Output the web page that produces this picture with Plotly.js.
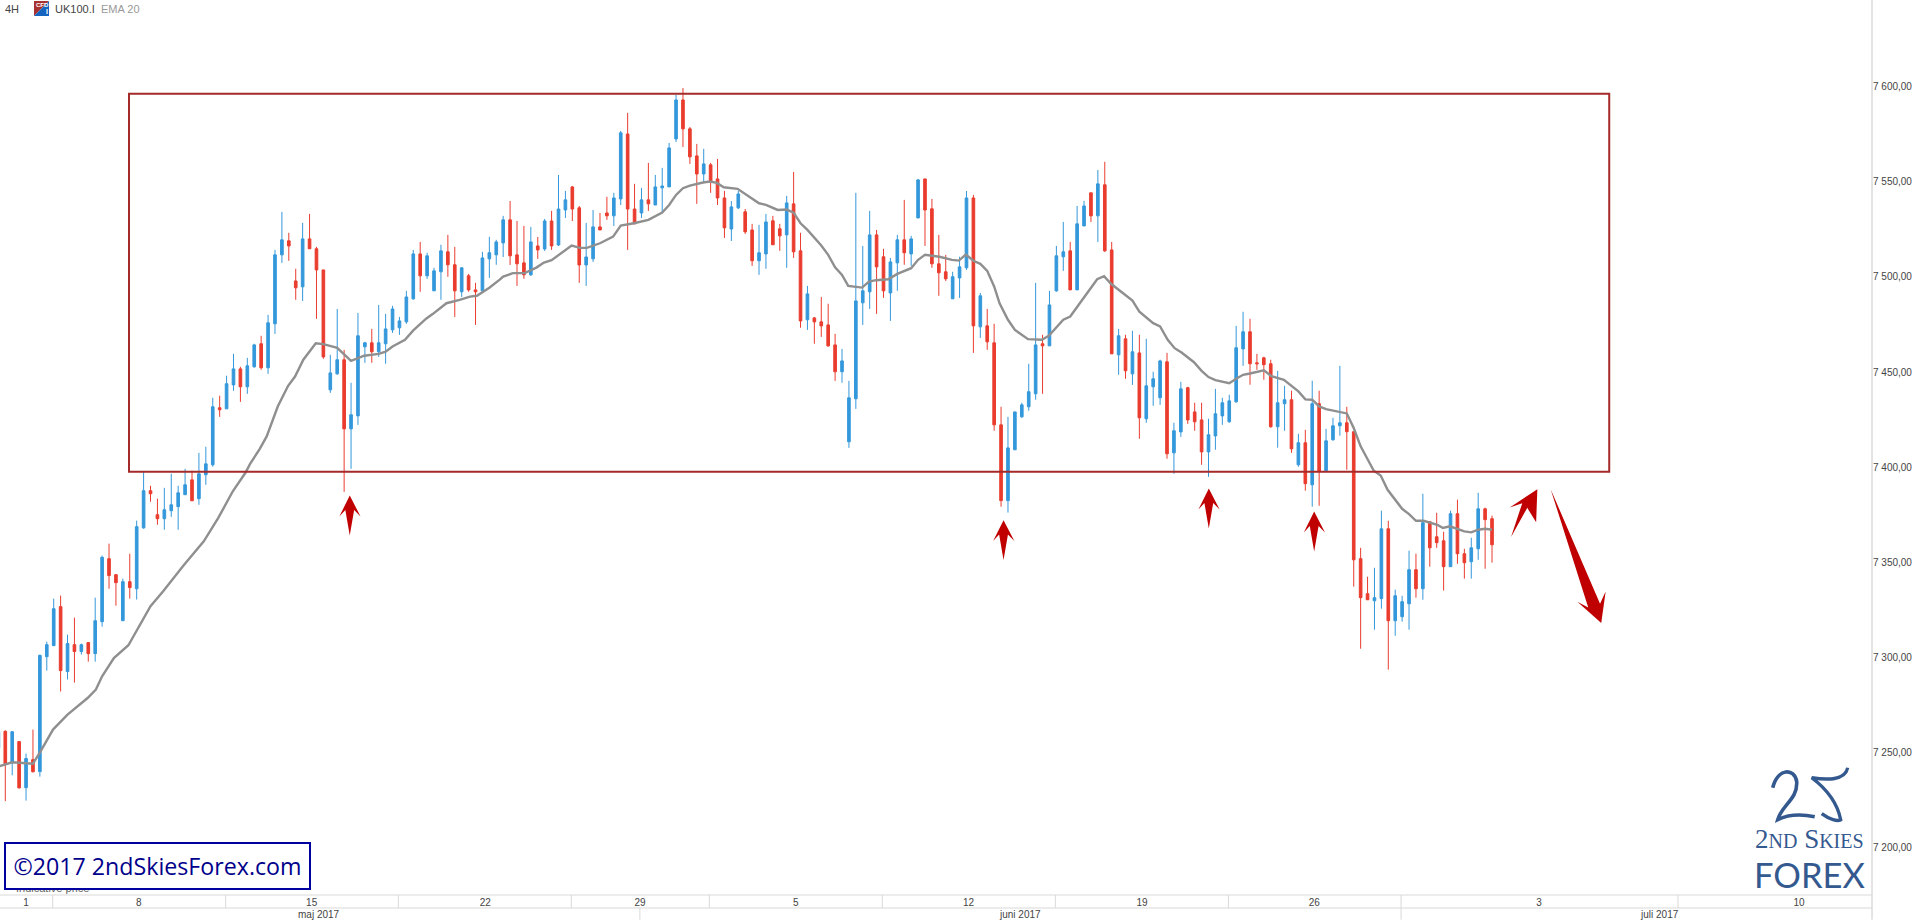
<![CDATA[<!DOCTYPE html>
<html><head><meta charset="utf-8">
<script src="https://cdn.plot.ly/plotly-3.0.1.min.js"></script>
<style>html,body{margin:0;padding:0;background:#fff;overflow:hidden}#chart{width:1914px;height:920px}</style>
</head><body><div id="chart"></div>
<script>
const priceOpen=[7252.4,7261.3,7245,7255.9,7231.7,7246.4,7240.1,7300.5,7306.3,7326.8,
7292.7,7306.8,7303.2,7307.9,7302.1,7318.9,7352,7343.6,7319.4,7339.9,
7336.2,7368.2,7387.7,7375.1,7373,7377.2,7379.3,7385.6,7393.4,7383.5,
7396.1,7401.3,7431.3,7430.7,7443.3,7451.7,7442.3,7452.8,7464.9,7452.3,
7475.4,7511.6,7519,7497.9,7494.8,7520,7514.8,7503.7,7440.7,7449.1,
7456.5,7420.2,7427,7463.3,7465.4,7460.7,7464.9,7472.2,7473.3,7476.4,
7488.5,7512.1,7500.6,7492.7,7502.7,7513.2,7506.4,7492.2,7500.6,7493.2,
7492.7,7509.5,7511.6,7517.9,7530,7511.6,7507.4,7501.1,7516.3,7514.7,
7529.4,7516.8,7535.2,7547.3,7536.3,7506.3,7509.5,7526.3,7533.6,7532.1,
7541,7575.1,7535.7,7533.6,7540.5,7537.8,7546.8,7547.3,7572.5,7593,
7577.8,7563.6,7554.1,7558.9,7551.5,7541.5,7525.2,7536.3,7534.2,7524.7,
7508.5,7512.1,7529.5,7525.3,7522.1,7538.4,7513.7,7477.5,7478.5,7476.4,
7474.8,7464.3,7450.2,7413.4,7436,7486.4,7492.2,7522.1,7510.6,7491.6,
7507.4,7519.5,7512.1,7531,7551.5,7535.8,7506.9,7502.7,7488.5,7499.5,
7504.8,7541.5,7473.8,7474.3,7465.4,7422.3,7382.5,7409.2,7426.5,7431.8,
7438.6,7464.9,7463.8,7492.7,7510.6,7513.7,7493.2,7526.8,7544.2,7532.1,
7548.4,7514.2,7459.1,7467.5,7449.1,7460.1,7425.5,7442.3,7436.5,7455.4,
7407.6,7418.6,7441.8,7429.1,7424.9,7408.1,7416.5,7427,7423.9,7434.4,
7462.2,7471.2,7454.9,7457.5,7454.4,7421.3,7433.4,7435.5,7401.3,7412.9,
7390.8,7433.4,7398.2,7414.5,7421.8,7423.4,7418.7,7352,7333.6,7329.9,
7331,7367.7,7319.4,7321.5,7328.3,7346.2,7336.2,7371.4,7363.5,7361.4,
7347.8,7375.6,7354.6,7350.4,7357.2,7378.2,7373];
const priceHigh=[7261.1,7261.8,7261.1,7255.9,7249.6,7262.2,7301.6,7308.4,7331,7332.6,
7312.1,7321,7307.4,7307.9,7331.5,7353.6,7359.9,7343.6,7341.5,7354.6,
7372,7397.6,7390.3,7383.5,7389.2,7396.6,7390.3,7399.2,7398.2,7407.6,
7410.8,7436.5,7437.6,7448.1,7459.6,7452.8,7457.5,7464.9,7469.1,7480.1,
7514.2,7534.2,7523.2,7504.3,7528.4,7533.1,7515.8,7503.7,7459.1,7483.2,
7461.7,7444.4,7481.1,7465.9,7472.7,7485.3,7480.6,7484.8,7479,7492.7,
7514.2,7518.4,7512.7,7504.8,7516.9,7522.1,7515.8,7504.8,7501.6,7496.9,
7513.2,7521.1,7519.5,7532.1,7539.9,7529.4,7526.8,7526.3,7521,7530.5,
7534.7,7553.6,7545.2,7547.8,7537.3,7528.4,7535.2,7533.6,7542.1,7544.2,
7576.7,7586.2,7548.9,7546.8,7559.9,7553.6,7557.3,7570.4,7595.6,7599.3,
7578.8,7569.9,7567.3,7559.9,7562,7545.2,7539.9,7545.2,7535.7,7527.9,
7527.4,7533.1,7532.1,7527.9,7542.6,7555.2,7523.2,7495.3,7479,7489.5,
7485.9,7470.1,7462.2,7445.4,7544.2,7516.3,7534.7,7524.7,7514.8,7510,
7522.1,7540.5,7521.6,7551.5,7551.5,7541,7522.1,7511.6,7502.7,7510.6,
7545.2,7543.1,7491.6,7483.2,7475.4,7431.8,7426.5,7429.1,7433.9,7454.4,
7496.9,7469.6,7492.7,7516.3,7528.9,7518.4,7537.3,7540,7544.2,7556.2,
7560.5,7518.4,7472.7,7469.6,7471.7,7469.6,7467.5,7450.2,7456.5,7460.1,
7423.4,7444.9,7442.3,7433.9,7433.9,7425.5,7441.2,7436.5,7438.1,7474.3,
7481.7,7478,7459.6,7458.1,7456.5,7450.7,7442.8,7440.2,7417.6,7419.7,
7445.5,7440.2,7420.2,7426,7453.3,7431.8,7418.7,7357.7,7342.5,7347.2,
7377.2,7371.9,7335.7,7332.5,7356.2,7354.6,7386.1,7371.4,7376.1,7366.2,
7377.2,7383,7357.2,7363,7386.6,7378.8,7374.6];
const priceLow=[7252.4,7224.6,7238.2,7231.2,7224.9,7239.6,7237.5,7293.2,7306.3,7282.2,
7288.5,7286.9,7301.6,7297.9,7297.9,7316.3,7336.2,7327.3,7319.4,7331,
7330.5,7367.7,7381.9,7369.8,7367.2,7374,7367.2,7385.6,7382.4,7380.3,
7390.8,7400.3,7426.5,7430.7,7440.2,7434.4,7438.6,7452.3,7451.2,7449.1,
7470.1,7507.4,7508.5,7488,7487.4,7514.8,7478,7457,7439.1,7448.6,
7387.1,7399.2,7422.3,7454.9,7454.9,7458,7454.4,7470.6,7469.6,7475.4,
7488,7492.2,7499,7492.7,7488,7500.1,7479,7489.5,7492.2,7474.8,
7492.7,7499.5,7506.4,7510.5,7506.3,7495.3,7499,7500.6,7509.5,7513.7,
7514.2,7516.3,7531,7529.4,7496.9,7495.3,7507.9,7524.7,7530,7526.8,
7537.8,7514.2,7527.9,7531,7534.7,7537.8,7533.6,7547.3,7570.9,7568.3,
7559.4,7538.4,7549.9,7544.2,7537.8,7520.5,7518.9,7535.7,7522.6,7505.8,
7501.1,7504.3,7516.9,7513.7,7504.8,7510,7473.3,7472.2,7464.9,7468.5,
7463.3,7445.4,7444.4,7410.2,7430.7,7474.8,7483.2,7480.6,7489,7476.9,
7492.7,7506.4,7505.8,7531,7516.3,7504.8,7490.1,7497.9,7488.5,7489,
7503.7,7460.1,7468,7461.7,7419.2,7379.3,7376.2,7409.2,7426,7429.7,
7435.5,7438.6,7463.8,7492.2,7503.2,7493.2,7493.2,7526.8,7528.9,7518.4,
7513.2,7459.6,7448.6,7446.5,7443.3,7415,7423.4,7432.3,7432.8,7404.5,
7396.6,7416,7422.8,7419.2,7401.3,7395,7409.2,7422.3,7423.4,7433.9,
7453.3,7443.4,7451.2,7446,7420.8,7410.3,7419.2,7407.6,7400.3,7387.7,
7379.3,7379.8,7398.2,7413.9,7416.6,7398.7,7337.3,7304.7,7330.4,7314.7,
7325.7,7293.7,7311.5,7318.9,7314.7,7331.5,7330.4,7347.8,7357.7,7335.2,
7347.8,7349.3,7341.5,7341.5,7351.4,7346.7,7349.9];
const priceClose=[7261.1,7244.3,7261.1,7231.6,7247,7240.1,7301.2,7306.8,7325.7,7293.2,
7307.4,7303.2,7306.8,7302.1,7319.4,7352.7,7343.1,7339.4,7339.9,7336.8,
7368.8,7387.7,7386.1,7373,7377.7,7380.3,7386.6,7390.8,7382.4,7396.6,
7401.8,7431.8,7430.2,7443.9,7451.7,7442.3,7453.3,7464.3,7452.3,7475.9,
7511.6,7519.5,7516.3,7494.3,7520,7514.8,7503.7,7458,7449.6,7456.5,
7420.2,7427.6,7469.1,7465.4,7460.7,7465.4,7472.7,7483.2,7476.9,7489.5,
7512.1,7500.6,7511.1,7503.2,7513.7,7506.4,7492.7,7504.8,7493.2,7492.2,
7510,7512.7,7518.4,7530,7511.1,7506.9,7501.1,7518.4,7514.2,7529.4,
7516.3,7535.7,7540.5,7535.7,7506.3,7510.5,7526.3,7524.7,7532.1,7541.5,
7575.7,7535.7,7527.9,7540.5,7538.4,7547.3,7547.8,7567.8,7593,7577.8,
7563.1,7554.1,7559.4,7549.9,7541.5,7525.8,7536.8,7543.6,7523.7,7508.5,
7512.7,7528.9,7516.9,7521.6,7538.9,7513.2,7476.9,7491.1,7476.4,7474.3,
7463.8,7450.2,7455.9,7436.5,7487.4,7492.7,7522.1,7505.3,7492.7,7507.9,
7519.5,7512.7,7520,7551,7535.2,7506.9,7502.2,7499,7500.1,7505.3,
7541.5,7474.3,7490.1,7465.9,7422.3,7382.5,7410.2,7429.1,7432.8,7439.7,
7464.3,7463.8,7485.3,7511.1,7513.2,7493.2,7527.9,7537.3,7532.1,7548.9,
7513.7,7459.6,7469.1,7450.7,7460.7,7426,7442.8,7446.5,7455.9,7407.1,
7419.2,7441.2,7424.9,7423.9,7408.1,7417.1,7428.1,7433.9,7434.9,7462.8,
7471.2,7454.4,7454.4,7453.9,7421.3,7433.9,7435.5,7409.7,7412.9,7391.4,
7433.4,7397.7,7413.9,7421.8,7423.4,7418.7,7351.4,7331.5,7330.4,7331.5,
7367.7,7319.4,7332.5,7329.4,7346.2,7336.2,7370.9,7357.7,7360.4,7347.8,
7375.6,7354.6,7349.9,7357.7,7378.2,7372.5,7359.3];
const emaBar=[0.2,2,5,6.1,7.9,10,12.9,14.1,15,16.7,18.8,20.6,22,23.8,26.8,29.7,31.8,33.9,35.7,36.4,37.8,38.8,40.4,41.9,42.9,44.1,45.1,45.9,47,49,51,52.9,55,56,57,58.8,60,61.9,62.8,64.8,66.7,68.2,69.2,71,72.5,73,74.4,76.1,77.8,78.9,80,82.9,84.1,85.1,87,88.9,90,91.9,94,96,97,98,99,100,101.9,102.9,103.9,104.9,106.9,108.7,110,111,112.7,114,115,116,117,119,120,121,122,122.9,124,124.9,125.9,126.9,128.7,130,132,133,134,136.1,137.9,138.9,139.9,141,142,143,144,144.8,146,147,148.9,150.9,151.9,154,155,157,158,158.9,159.9,160.9,164,165,167,168,169.1,170.1,171.1,172.9,174,175,176,178,179,180,181,183,184.1,185.9,188,189,190,191,192,195,196,197,198.9,199.9,200.9,203,204,205,206.1,208.1,208.9,209.9,212,213,214,215,216];
const emaValue=[7243,7245,7244.3,7250.8,7262.2,7270.1,7278.8,7283.2,7290.2,7299.8,7306.5,7318.2,7327,7334.8,7348.5,7361.1,7373.4,7387.4,7397,7401.8,7409.7,7416.2,7431.9,7442.8,7447.7,7456.5,7461.2,7465.2,7464.7,7462.8,7455.9,7458.6,7459.6,7460.7,7463.5,7467,7471.9,7478.2,7480.5,7486.2,7488,7489.7,7490.1,7494.3,7498.6,7500.2,7502,7502,7504.9,7507.6,7508.8,7516.5,7515.3,7515.3,7517.7,7521.2,7527,7528.2,7530,7533.8,7537.8,7543.1,7546.6,7548,7549.6,7550.1,7549.4,7547.1,7546.3,7541.9,7538.7,7537.9,7535.2,7535.4,7533.8,7528.2,7524.7,7516.5,7511.6,7505.1,7501.1,7495.3,7494.6,7494.4,7497.6,7498.3,7498.8,7501.6,7504.6,7509,7511.6,7510.6,7509,7508.6,7511.8,7508.5,7506.9,7503.2,7495,7486,7477.5,7472.2,7467.3,7467,7469.1,7477.5,7479.2,7489.4,7494.1,7498.8,7500.4,7496.4,7487.6,7481.8,7475.7,7474,7467,7462.6,7460.3,7455.2,7450.7,7447.4,7445.8,7444.2,7446.5,7448.6,7449.3,7450.9,7447.9,7446,7439.9,7435.7,7435.5,7432,7430.6,7428.3,7420.6,7411,7398.2,7395.7,7388.2,7378.2,7375.4,7371.9,7371.9,7369.8,7368.1,7369,7366.3,7365.8,7367.2,7367.7,7367.2];
const priceTicks=[7600,7550,7500,7450,7400,7350,7300,7250,7200];
const priceTickText=["7 600,00","7 550,00","7 500,00","7 450,00","7 400,00","7 350,00","7 300,00","7 250,00","7 200,00"];
const dayTickBar=[4,20.3,45.3,70.4,92.8,115.3,140.3,165.4,190.3,222.8,260.4];
const dayTickText=["1","8","15","22","29","5","12","19","26","3","10"];
const monthNames=["maj 2017","juni 2017","juli 2017"];
const monthCenterPx=[319,1020,1660];
const dayDividerPx=[52.7,225.7,398.4,571.4,709.4,882.4,1055.5,1228.6,1401.3,1678.3];
const monthDividerPx=[640,1401.3];

const W=1872.3,H=895.3;
const X=p=>p/W, Y=p=>1-p/H;
const bars=priceOpen.map((_,i)=>i);
const poly=(pts)=>'M'+pts.map(p=>X(p[0]).toFixed(5)+' '+Y(p[1]).toFixed(5)).join(' L')+' Z';
const gridLine=(x0,y0,x1,y1,c)=>({type:'line',xref:'paper',yref:'paper',x0:X(x0),y0:Y(y0),x1:X(x1),y1:Y(y1),line:{color:c||'#d9d9d9',width:1}});
const arrowUp=(x,tip)=>({type:'path',xref:'paper',yref:'paper',fillcolor:'#c00000',line:{width:0},
  path:poly([[x,tip],[x+10.8,tip+21],[x+4.4,tip+14.5],[x,tip+40],[x-4.4,tip+14.5],[x-10.4,tip+21]])});

const shapes=[
 {type:'rect',xref:'x',yref:'y',x0:18.89,x1:232.95,y0:7397.6,y1:7596.2,line:{color:'#a52a2a',width:2},fillcolor:'rgba(0,0,0,0)',layer:'above'},
 gridLine(W,0,W,920,'#c8c8c8'),
 gridLine(0,H,W,H),
 gridLine(0,908.3,W,908.3),
 ...dayDividerPx.map(p=>gridLine(p,H,p,908.3)),
 ...monthDividerPx.map(p=>gridLine(p,908.3,p,920)),
 arrowUp(349.8,495.7),arrowUp(1003.7,520.3),arrowUp(1209,488.7),arrowUp(1314.4,511.7),
 {type:'path',xref:'paper',yref:'paper',fillcolor:'#c00000',line:{width:0},
  path:poly([[1537.6,489.3],[1536.4,522.3],[1527.5,508],[1511.3,537.3],[1522.5,503.3],[1510,507.7]])},
 {type:'path',xref:'paper',yref:'paper',fillcolor:'#c00000',line:{width:0},
  path:poly([[1550.9,489.3],[1600.3,604],[1605.9,591.7],[1601.5,623.3],[1577.6,602],[1588.5,607.7]])},
 {type:'path',xref:'paper',yref:'paper',fillcolor:'#a83232',line:{width:0},path:poly([[34,1],[49,1],[34,16]])},
 {type:'path',xref:'paper',yref:'paper',fillcolor:'#1565c0',line:{width:0},path:poly([[49,1],[49,16],[34,16]])},
 {type:'path',xref:'paper',yref:'paper',line:{color:'#34598f',width:3.6},fillcolor:'rgba(0,0,0,0)',
  path:`M${X(1773)} ${Y(788)} C${X(1778)} ${Y(768)} ${X(1795)} ${Y(768)} ${X(1797)} ${Y(782)} C${X(1798)} ${Y(800)} ${X(1782)} ${Y(805)} ${X(1778)} ${Y(820)} C${X(1790)} ${Y(814)} ${X(1805)} ${Y(815)} ${X(1815)} ${Y(817)}`},
 {type:'path',xref:'paper',yref:'paper',line:{color:'#34598f',width:3.4},fillcolor:'rgba(0,0,0,0)',
  path:`M${X(1848)} ${Y(768)} C${X(1845)} ${Y(782)} ${X(1825)} ${Y(780)} ${X(1812)} ${Y(778)} C${X(1828)} ${Y(790)} ${X(1838)} ${Y(805)} ${X(1841)} ${Y(820)} C${X(1838)} ${Y(822)} ${X(1830)} ${Y(820)} ${X(1822)} ${Y(814)}`},
];
const labelFont={family:'Liberation Sans, Arial, sans-serif',size:10,color:'#444'};
const logoBlue='#34598f';
const note=(px,py,text,font,anchor,extra)=>Object.assign({xref:'paper',yref:'paper',x:X(px),y:Y(py),text,showarrow:false,xanchor:anchor||'left',yanchor:'middle',font,borderpad:0},extra||{});
const annotations=[
 note(4,9,'4H',{family:'Liberation Sans, Arial',size:11,color:'#444'}),
 note(54,9,'UK100.I',{family:'Liberation Sans, Arial',size:11,color:'#444'}),
 note(100,9,'EMA 20',{family:'Liberation Sans, Arial',size:11,color:'#999'}),
 note(34.8,5,'<b>CFD</b>',{family:'Liberation Sans, Arial',size:6,color:'#fff'}),
 note(45.5,12,'<b>I</b>',{family:'Liberation Sans, Arial',size:7,color:'#fff'}),
 ...monthNames.map((t,i)=>note(monthCenterPx[i],914.7,t,labelFont,'center')),
 note(15,888.5,'Indicative price',{family:'Liberation Sans, Arial',size:11,color:'#666'}),
 note(157.6,866.5,'©2017 2ndSkiesForex.com',{family:'Open Sans, sans-serif',size:23.2,color:'#00008b'},'center',{width:303,height:44,bgcolor:'#fff',bordercolor:'#0000a0',borderwidth:2,align:'center',valign:'middle'}),
 note(1809.5,839,'2<span style="font-size:20px">ND</span> S<span style="font-size:20px">KIES</span>',{family:'Liberation Serif, serif',size:27,color:logoBlue},'center'),
 note(1809.5,875,'FOREX',{family:'Lato, sans-serif',size:34.5,color:logoBlue},'center'),
];
const traces=[
 {type:'candlestick',x:bars,open:priceOpen,high:priceHigh,low:priceLow,close:priceClose,whiskerwidth:0,
  increasing:{line:{color:'#3498db',width:1},fillcolor:'#3498db'},
  decreasing:{line:{color:'#ea3c2e',width:1},fillcolor:'#ea3c2e'},hoverinfo:'skip',showlegend:false},
 {type:'scatter',mode:'lines',x:emaBar,y:emaValue,line:{color:'#8f8f8f',width:2.4},hoverinfo:'skip',showlegend:false}
];
const layout={
 width:1914,height:920,margin:{l:0,r:41.7,t:0,b:24.7},paper_bgcolor:'#fff',plot_bgcolor:'#fff',showlegend:false,
 boxgap:0.62,boxgroupgap:0,
 xaxis:{type:'linear',range:[0.234,270.95],showgrid:false,zeroline:false,showline:false,rangeslider:{visible:false},
  tickmode:'array',tickvals:dayTickBar,ticktext:dayTickText,ticks:'',tickfont:labelFont,fixedrange:true},
 yaxis:{type:'linear',range:[7175.3,7645.5],side:'right',showgrid:false,zeroline:false,showline:false,
  tickmode:'array',tickvals:priceTicks,ticktext:priceTickText,ticks:'',tickfont:labelFont,fixedrange:true},
 shapes,annotations
};
Plotly.newPlot('chart',traces,layout,{displayModeBar:false,staticPlot:true});
</script></body></html>]]>
